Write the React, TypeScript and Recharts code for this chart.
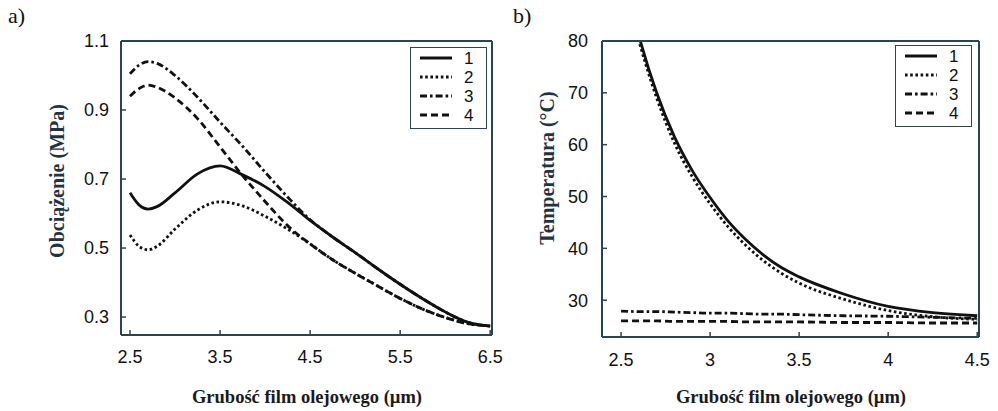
import { LineChart, Line, XAxis, YAxis, Legend } from 'recharts';

const SANS = '"Liberation Sans", Arial, sans-serif';
const SERIF = '"Liberation Serif", "Times New Roman", serif';
const FRAME = '#2b4550';
const INK = '#111111';
const TITLE = '#1f3440';

// series styles (solid, dotted, dash-dot, dashed)
const seriesNames = ['1', '2', '3', '4'];
const seriesDash = ['', '2.6 2.6', '7 3 2.6 3', '7 4'];

// a) load vs oil film thickness
const thicknessA = [2.5, 2.6, 2.7, 2.8, 3.0, 3.25, 3.5, 3.75, 4.0, 4.25, 4.5, 4.75, 5.0, 5.25, 5.5, 5.75, 6.0, 6.25, 6.5];
const load1 = [0.66, 0.625, 0.613, 0.62, 0.66, 0.715, 0.738, 0.712, 0.678, 0.632, 0.58, 0.532, 0.487, 0.44, 0.395, 0.353, 0.315, 0.285, 0.274];
const load2 = [0.538, 0.505, 0.495, 0.505, 0.555, 0.61, 0.634, 0.622, 0.592, 0.555, 0.512, 0.466, 0.427, 0.39, 0.354, 0.323, 0.299, 0.281, 0.274];
const load3 = [1.005, 1.03, 1.04, 1.035, 1.0, 0.937, 0.865, 0.795, 0.72, 0.648, 0.582, 0.532, 0.487, 0.44, 0.395, 0.353, 0.315, 0.285, 0.274];
const load4 = [0.94, 0.962, 0.972, 0.966, 0.935, 0.875, 0.793, 0.71, 0.635, 0.565, 0.512, 0.466, 0.427, 0.39, 0.354, 0.323, 0.299, 0.281, 0.274];
const loadXTicks = [2.5, 3.5, 4.5, 5.5, 6.5];
const loadYTicks = [0.3, 0.5, 0.7, 0.9, 1.1];

// b) temperature vs oil film thickness
const thicknessB = [2.5, 2.6, 2.7, 2.8, 2.9, 3.0, 3.1, 3.2, 3.3, 3.4, 3.5, 3.75, 4.0, 4.25, 4.5];
const temp1 = [95, 81, 70, 61.5, 55, 49.8, 45.3, 41.7, 38.7, 36.3, 34.5, 31.2, 28.8, 27.6, 27.0];
const temp2 = [93, 80, 69, 60.3, 53.8, 48.6, 44.2, 40.6, 37.6, 35.2, 33.3, 30.2, 28.0, 26.8, 26.3];
const temp3 = [27.9, 27.8, 27.8, 27.7, 27.6, 27.5, 27.5, 27.4, 27.3, 27.3, 27.2, 27.0, 26.9, 26.7, 26.5];
const temp4 = [26.0, 26.0, 26.0, 25.9, 25.9, 25.9, 25.9, 25.8, 25.8, 25.8, 25.8, 25.7, 25.7, 25.6, 25.6];
const tempXTicks = [2.5, 3, 3.5, 4, 4.5];
const tempYTicks = [30, 40, 50, 60, 70, 80];

const toPoints = (xs: number[], ys: number[]) => xs.map((x, i) => ({ x, y: ys[i] }));

function LegendBox({ payload }: any) {
  const items = payload && payload.length ? payload : seriesNames.map((n) => ({ value: n }));
  return (
    <div style={{ width: 77, height: 82, border: `1.5px solid ${FRAME}`, background: '#fff', boxSizing: 'border-box' }}>
      <svg width={74} height={79} style={{ display: 'block' }}>
        {items.map((item: any, i: number) => (
          <g key={i}>
            <line x1={9} x2={41} y1={10 + i * 19} y2={10 + i * 19} stroke={INK} strokeWidth={3} strokeDasharray={seriesDash[i] || undefined} />
            <text x={53} y={16 + i * 19} fontSize={17} fontFamily={SANS} fill={INK}>{item.value}</text>
          </g>
        ))}
      </svg>
    </div>
  );
}

interface PanelProps {
  width: number;
  box: { top: number; right: number; bottom: number; left: number };
  xs: number[];
  curves: number[][];
  xDomain: [number, number];
  yDomain: [number, number];
  xTicks: number[];
  yTicks: number[];
  xFmt: (v: number) => string;
  yFmt: (v: number) => string;
  xGap: number;
  yGap: number;
  legendLeft: number;
  legendTop: number;
}

function Panel(p: PanelProps) {
  const tickStyle = { fill: '#111', fontSize: 18, fontFamily: SANS };
  const lineStyle = { stroke: FRAME, strokeWidth: 1.5 };
  const axisStyle = { stroke: FRAME, strokeWidth: 2 };
  // each axis takes 1px, so the plot box lands on p.box
  const margin = { top: p.box.top - 1, right: p.box.right - 1, bottom: p.box.bottom - 1, left: p.box.left - 1 };
  return (
    <LineChart width={p.width} height={411} margin={margin}>
      <XAxis
        dataKey="x" type="number" domain={p.xDomain} allowDataOverflow ticks={p.xTicks} interval={0}
        height={1} tickSize={-5} tickMargin={p.xGap} tickFormatter={p.xFmt}
        tick={tickStyle} tickLine={lineStyle} axisLine={axisStyle}
      />
      <XAxis
        xAxisId="top" orientation="top" dataKey="x" type="number" domain={p.xDomain} allowDataOverflow ticks={p.xTicks}
        interval={0} height={1} tickSize={-5} tick={false} tickLine={lineStyle} axisLine={axisStyle}
      />
      <YAxis
        type="number" domain={p.yDomain} allowDataOverflow ticks={p.yTicks} interval={0}
        width={1} tickSize={-5} tickMargin={p.yGap} tickFormatter={p.yFmt}
        tick={tickStyle} tickLine={lineStyle} axisLine={axisStyle}
      />
      <YAxis
        yAxisId="right" orientation="right" type="number" domain={p.yDomain} allowDataOverflow ticks={p.yTicks}
        interval={0} width={1} tickSize={-5} tick={false} tickLine={lineStyle} axisLine={axisStyle}
      />
      {p.curves.map((ys, i) => (
        <Line
          key={i}
          data={toPoints(p.xs, ys)}
          dataKey="y"
          name={seriesNames[i]}
          type="monotone"
          stroke={INK}
          strokeWidth={2.8}
          strokeDasharray={seriesDash[i] || undefined}
          dot={false}
          isAnimationActive={false}
        />
      ))}
      <Legend
        layout="horizontal"
        verticalAlign="middle"
        align="center"
        content={(props: any) => <LegendBox payload={props.payload} />}
        wrapperStyle={{ left: p.legendLeft, top: p.legendTop, right: 'auto', width: 77, height: 82 }}
      />
    </LineChart>
  );
}

const abs = (left: number, top: number): React.CSSProperties => ({ position: 'absolute', left, top });

export default function App() {
  const panelTag = { fontFamily: SERIF, fontSize: 22, color: '#111', lineHeight: 1 };
  const xTitle = { fontFamily: SERIF, fontWeight: 700, fontSize: 18.5, color: '#1a1a1a', whiteSpace: 'nowrap' as const, transform: 'translate(-50%, -50%)' };
  const yTitle = { fontFamily: SERIF, fontWeight: 700, fontSize: 20, color: TITLE, whiteSpace: 'nowrap' as const, transform: 'translate(-50%, -50%) rotate(-90deg)' };
  return (
    <div style={{ position: 'absolute', left: 0, top: 0, width: 998, height: 411, background: '#fff', overflow: 'hidden' }}>
      <div style={abs(0, 0)}>
        <Panel
          width={520}
          box={{ top: 41, right: 28, bottom: 76, left: 121 }}
          xs={thicknessA}
          curves={[load1, load2, load3, load4]}
          xDomain={[2.4, 6.52]}
          yDomain={[0.248, 1.1]}
          xTicks={loadXTicks}
          yTicks={loadYTicks}
          xFmt={(v) => v.toFixed(1)}
          yFmt={(v) => v.toFixed(1)}
          xGap={20}
          yGap={17}
          legendLeft={410}
          legendTop={47}
        />
      </div>
      <div style={abs(500, 0)}>
        <Panel
          width={498}
          box={{ top: 41, right: 19, bottom: 74, left: 102 }}
          xs={thicknessB}
          curves={[temp1, temp2, temp3, temp4]}
          xDomain={[2.393, 4.51]}
          yDomain={[22.9, 80]}
          xTicks={tempXTicks}
          yTicks={tempYTicks}
          xFmt={(v) => String(v)}
          yFmt={(v) => String(v)}
          xGap={21}
          yGap={19}
          legendLeft={395}
          legendTop={45}
        />
      </div>
      <div style={{ ...abs(8, 5), ...panelTag }}>a)</div>
      <div style={{ ...abs(513, 5), ...panelTag }}>b)</div>
      <div style={{ ...abs(307, 397), ...xTitle }}>Grubość film olejowego (µm)</div>
      <div style={{ ...abs(791, 397), ...xTitle }}>Grubość film olejowego (µm)</div>
      <div style={{ ...abs(57, 181), ...yTitle }}>Obciążenie (MPa)</div>
      <div style={{ ...abs(547, 168), ...yTitle }}>Temperatura (°C)</div>
    </div>
  );
}
